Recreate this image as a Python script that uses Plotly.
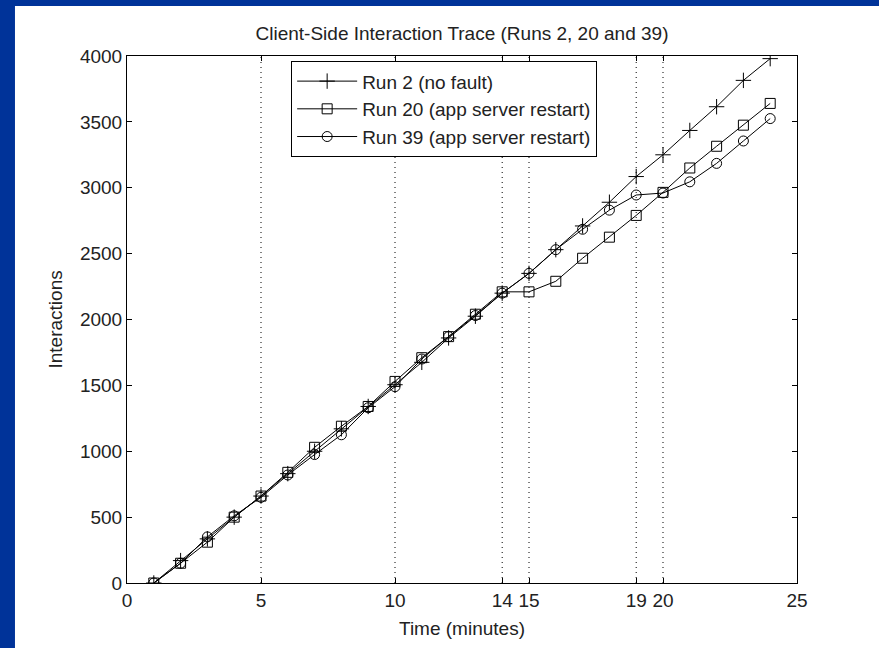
import plotly.graph_objects as go

minutes = list(range(1, 25))
run2 = [0, 170, 335, 500, 660, 830, 1000, 1170, 1340, 1505, 1675, 1860, 2025, 2200,
        2350, 2530, 2710, 2890, 3085, 3250, 3435, 3615, 3815, 3980]
run20 = [0, 150, 310, 500, 660, 840, 1030, 1190, 1340, 1530, 1710, 1870, 2040, 2210,
         2210, 2290, 2465, 2625, 2790, 2965, 3150, 3315, 3475, 3640]
run39 = [0, 150, 350, 510, 650, 820, 975, 1125, 1330, 1490, 1700, 1870, 2030, 2200,
         2350, 2530, 2685, 2830, 2945, 2960, 3045, 3185, 3355, 3525]
event_minutes = [5, 10, 14, 15, 19, 20]
x_ticks = [0, 5, 10, 14, 15, 19, 20, 25]
y_ticks = [0, 500, 1000, 1500, 2000, 2500, 3000, 3500, 4000]

series = [
    ("Run 2 (no fault)", run2, "cross-thin-open", 11),
    ("Run 20 (app server restart)", run20, "square-open", 10),
    ("Run 39 (app server restart)", run39, "circle-open", 10),
]

FONT = "Liberation Sans, Arial, sans-serif"
TXT = "#222222"

fig = go.Figure()
for name, vals, sym, sz in series:
    fig.add_trace(go.Scatter(
        x=minutes, y=vals, name=name, mode="lines+markers",
        line=dict(color="black", width=1),
        marker=dict(symbol=sym, size=sz, color="black",
                    line=dict(color="black", width=1)),
    ))

shapes = [dict(type="rect", xref="paper", yref="paper",
               x0=-0.1672, x1=1.13, y0=-0.13, y1=1.0949,
               fillcolor="white", line=dict(width=0), layer="below")]
for m in event_minutes:
    shapes.append(dict(type="line", xref="x", yref="paper", x0=m, x1=m, y0=0, y1=1,
                       line=dict(color="black", width=1, dash="1px,4px"), layer="below"))

fig.update_layout(
    width=879, height=648,
    margin=dict(l=127, r=82, t=56, b=65),
    paper_bgcolor="#003399",
    plot_bgcolor="white",
    font=dict(family=FONT, size=19, color=TXT),
    title=dict(text="Client-Side Interaction Trace (Runs 2, 20 and 39)",
               x=0.5, xref="paper", y=1 - 33 / 648, yref="container",
               xanchor="center", yanchor="middle",
               font=dict(family=FONT, size=19, color=TXT)),
    showlegend=True,
    legend=dict(x=0.245, y=0.99, xanchor="left", yanchor="top",
                bgcolor="white", bordercolor="black", borderwidth=1,
                font=dict(family=FONT, size=19, color=TXT),
                itemwidth=60, tracegroupgap=0),
    shapes=shapes,
    annotations=[
        dict(text="Time (minutes)", xref="paper", yref="paper",
             x=0.5, y=(583 - 628) / 527, xanchor="center", yanchor="middle",
             showarrow=False, font=dict(family=FONT, size=19, color=TXT)),
        dict(text="Interactions", xref="paper", yref="paper",
             x=(55 - 127) / 670, y=0.5, xanchor="center", yanchor="middle",
             textangle=-90, showarrow=False,
             font=dict(family=FONT, size=19, color=TXT)),
    ],
)
fig.update_xaxes(range=[0, 25], tickmode="array", tickvals=x_ticks,
                 showline=True, linecolor="black", linewidth=1, mirror="allticks",
                 ticks="inside", ticklen=5, tickcolor="black",
                 showgrid=False, zeroline=False)
fig.update_yaxes(range=[0, 4000], tickmode="array", tickvals=y_ticks,
                 showline=True, linecolor="black", linewidth=1, mirror="allticks",
                 ticks="inside", ticklen=5, tickcolor="black",
                 showgrid=False, zeroline=False)

fig.write_html("out.html")
